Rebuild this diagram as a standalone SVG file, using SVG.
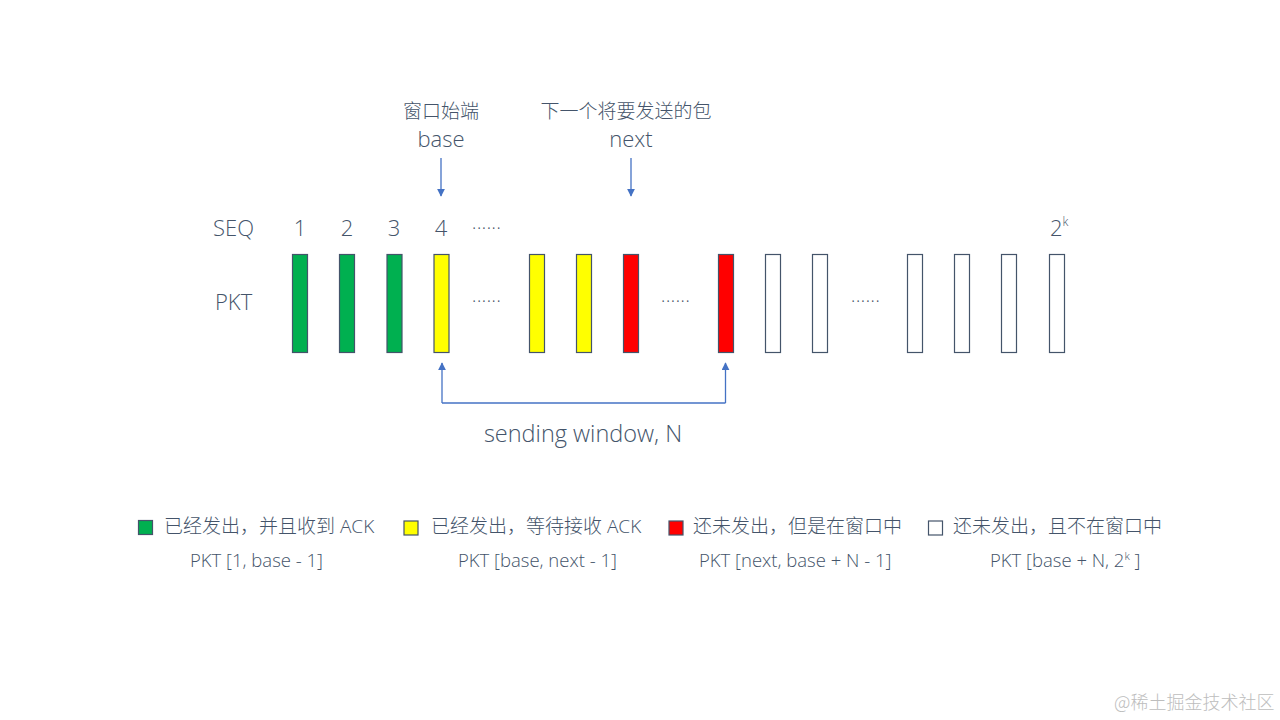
<svg xmlns="http://www.w3.org/2000/svg" width="1280" height="720" viewBox="0 0 1280 720">
<defs>
<style>
text{font-family:"Open Sans","Noto Sans CJK SC",sans-serif;fill:#44546A;font-weight:300}
.lbl{font-size:22px}
.num{font-size:22px;text-anchor:middle}
.big{font-size:23.5px;text-anchor:middle}
.cn{font-size:19px;text-anchor:middle}
.leg{font-size:19px}
.sub{font-size:18.5px}
.dots{font-size:18px;letter-spacing:0.6px}
.bar{stroke:#44546A;stroke-width:1.2}
.g{fill:#00B050}.y{fill:#FFFF00}.r{fill:#FF0000}.w{fill:#FFFFFF}
.arr{stroke:#4472C4;stroke-width:1.3;fill:none}
.wm{font-family:"Noto Sans CJK SC",sans-serif;font-size:18px;fill:#BDBDBD}
</style>
<marker id="ah" viewBox="0 0 10 10" refX="9" refY="5" markerWidth="8" markerHeight="8" markerUnits="userSpaceOnUse" orient="auto">
<path d="M0,0 L10,5 L0,10 z" fill="#4472C4"/>
</marker>
</defs>
<rect width="1280" height="720" fill="#FFFFFF"/>

<g id="pointer-base">
<text class="cn" x="441" y="118">窗口始端</text>
<text class="num" x="441" y="147">base</text>
</g>
<g id="pointer-next">
<text class="cn" x="626" y="118">下一个将要发送的包</text>
<text class="num" x="631" y="147">next</text>
</g>

<g id="seq-row">
<text class="lbl" x="213" y="236">SEQ</text>
<text class="num" x="300" y="236">1</text>
<text class="num" x="347" y="236">2</text>
<text class="num" x="394" y="236">3</text>
<text class="num" x="441" y="236">4</text>
<text class="dots" x="472" y="229">......</text>
<text class="lbl" x="1050" y="236">2<tspan font-size="12" dy="-10">k</tspan></text>
</g>

<g id="pkt-row">
<text class="lbl" x="215" y="310">PKT</text>
<rect class="bar g" x="292.5" y="254.5" width="15" height="98"/>
<rect class="bar g" x="339.5" y="254.5" width="15" height="98"/>
<rect class="bar g" x="387" y="254.5" width="15" height="98"/>
<rect class="bar y" x="434" y="254.5" width="15" height="98"/>
<text class="dots" x="472" y="302">......</text>
<rect class="bar y" x="529.5" y="254.5" width="15" height="98"/>
<rect class="bar y" x="576.5" y="254.5" width="15" height="98"/>
<rect class="bar r" x="623.5" y="254.5" width="15" height="98"/>
<text class="dots" x="661" y="302">......</text>
<rect class="bar r" x="718.5" y="254.5" width="15" height="98"/>
<rect class="bar w" x="765.5" y="254.5" width="15" height="98"/>
<rect class="bar w" x="812.5" y="254.5" width="15" height="98"/>
<text class="dots" x="851" y="302">......</text>
<rect class="bar w" x="907.5" y="254.5" width="15" height="98"/>
<rect class="bar w" x="954.5" y="254.5" width="15" height="98"/>
<rect class="bar w" x="1001.5" y="254.5" width="15" height="98"/>
<rect class="bar w" x="1049.5" y="254.5" width="15" height="98"/>
</g>

<g id="connectors">
<line class="arr" x1="441" y1="158" x2="441" y2="196" marker-end="url(#ah)"/>
<line class="arr" x1="631" y1="158" x2="631" y2="196" marker-end="url(#ah)"/>
<path class="arr" d="M442,403 V363" marker-end="url(#ah)"/>
<path class="arr" d="M725.5,403 V363" marker-end="url(#ah)"/>
<line class="arr" x1="442" y1="403" x2="725.5" y2="403"/>
</g>

<g id="window-label">
<text class="big" x="583" y="442">sending window, N</text>
</g>

<g id="legend-acked">
<rect class="bar g" x="138.5" y="520.5" width="14" height="14"/>
<text class="leg" x="164" y="533">已经发出，并且收到 ACK</text>
<text class="sub" x="190" y="567">PKT [1, base - 1]</text>
</g>
<g id="legend-sent">
<rect class="bar y" x="404" y="521" width="14" height="14"/>
<text class="leg" x="431" y="533">已经发出，等待接收 ACK</text>
<text class="sub" x="458" y="567">PKT [base, next - 1]</text>
</g>
<g id="legend-usable">
<rect class="bar r" x="669" y="521" width="14" height="14"/>
<text class="leg" x="693" y="533">还未发出，但是在窗口中</text>
<text class="sub" x="699" y="567">PKT [next, base + N - 1]</text>
</g>
<g id="legend-unusable">
<rect class="bar w" x="928.5" y="521" width="14" height="14"/>
<text class="leg" x="953" y="533">还未发出，且不在窗口中</text>
<text class="sub" x="990" y="567">PKT [base + N, 2<tspan font-size="11" dy="-7">k</tspan><tspan dy="7"> ]</tspan></text>
</g>

<text class="wm" x="1114" y="709">@稀土掘金技术社区</text>
</svg>
